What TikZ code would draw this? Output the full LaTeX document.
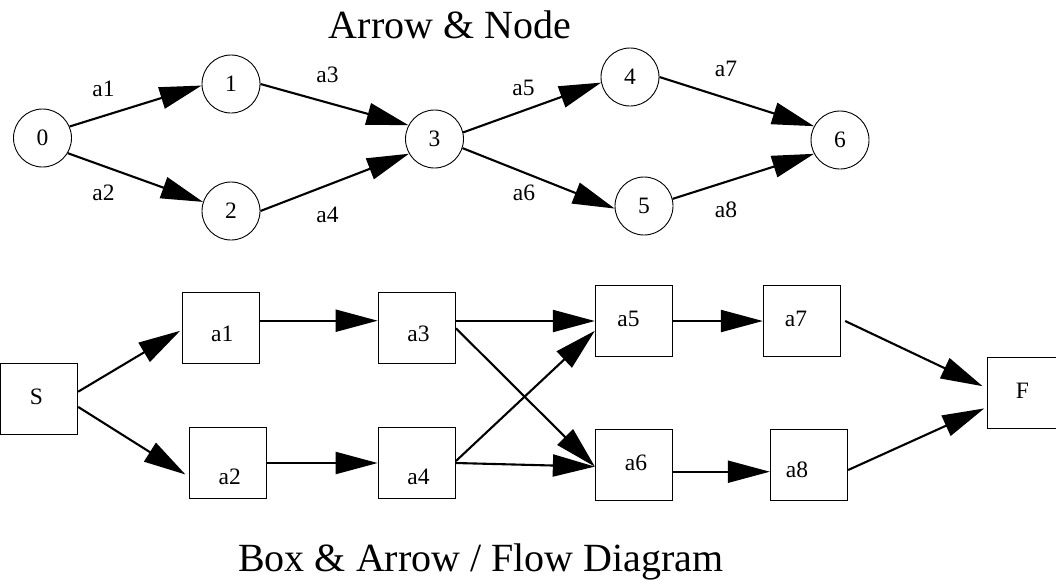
\documentclass[tikz,border=0pt]{standalone}
\usepackage{fontspec}
\setmainfont{Liberation Serif}
\usetikzlibrary{arrows.meta}
\begin{document}
\begin{tikzpicture}[x=1pt,y=-1pt,
  circ/.style={circle,draw,line width=0.9pt,minimum size=58pt,inner sep=0pt,font=\fontsize{23.5}{26}\selectfont},
  boxn/.style={rectangle,draw,line width=1.3pt,minimum width=77pt,minimum height=71pt,inner sep=0pt},
  lbl/.style={font=\fontsize{23.5}{26}\selectfont,inner sep=0pt},
  arr/.style={line width=2.1pt,-{Triangle[length=42pt,width=22pt]}},
  ttl/.style={font=\fontsize{40}{44}\selectfont,inner sep=0pt,anchor=base}]
\useasboundingbox (0,0) rectangle (1056,579);
% titles
\node[ttl] (t1) at (450,38.3) {Arrow \& Node};
\node[ttl] (t2) at (481,571.7) {Box \& Arrow / Flow Diagram};
% top graph
\node[circ] (n0) at (42.5,138) {0};
\node[circ] (n1) at (231,84) {1};
\node[circ] (n2) at (231,211) {2};
\node[circ] (n3) at (434.5,139) {3};
\node[circ] (n4) at (630,77) {4};
\node[circ] (n5) at (644,206) {5};
\node[circ] (n6) at (840,140) {6};
\draw[arr] (n0.23) -- (n1.183);
\draw[arr] (n0.-31) -- (n2.162);
\draw[arr] (n1.0) -- (n3.152);
\draw[arr] (n2.0) -- (n3.210);
\draw[arr] (n3.13) -- (n4.191);
\draw[arr] (n3.-18) -- (n5.185);
\draw[arr] (n4.0) -- (n6.152);
\draw[arr] (n5.14) -- (n6.208);
\node[lbl] (l1) at (103.5,89) {a1};
\node[lbl] (l2) at (103.5,192.5) {a2};
\node[lbl] (l3) at (327.5,75) {a3};
\node[lbl] (l4) at (327.5,215) {a4};
\node[lbl] (l5) at (523.5,88) {a5};
\node[lbl] (l6) at (524,192.5) {a6};
\node[lbl] (l7) at (726,69) {a7};
\node[lbl] (l8) at (726,210) {a8};
% bottom flow diagram
\node[boxn,label={[lbl,xshift=-2.5pt,yshift=2.5pt]center:S}] (S) at (39,399) {};
\node[boxn,label={[lbl,xshift=1.2pt,yshift=-5.4pt]center:a1}] (b1) at (221,328.3) {};
\node[boxn,label={[lbl,xshift=1.8pt,yshift=-14pt]center:a2}] (b2) at (228,463) {};
\node[boxn,label={[lbl,xshift=1.7pt,yshift=-5.4pt]center:a3}] (b3) at (416.8,328.3) {};
\node[boxn,label={[lbl,xshift=1.7pt,yshift=-14pt]center:a4}] (b4) at (416.8,463) {};
\node[boxn,label={[lbl,xshift=-5.5pt,yshift=2.5pt]center:a5}] (b5) at (634,321) {};
\node[boxn,label={[lbl,xshift=2pt,yshift=2pt]center:a6}] (b6) at (634,465) {};
\node[boxn,label={[lbl,xshift=-6pt,yshift=2.5pt]center:a7}] (b7) at (802,321) {};
\node[boxn,label={[lbl,xshift=-12pt,yshift=-5pt]center:a8}] (b8) at (809,465) {};
\node[boxn,label={[lbl,xshift=-3.3pt,yshift=2.5pt]center:F}] (F) at (1025.8,393) {};
\draw[arr] ([yshift=7.3pt]S.east) -- ([xshift=-1.7pt,yshift=-2.5pt]b1.west);
\draw[arr] ([yshift=-7.9pt]S.east) -- ([xshift=-3.4pt,yshift=-11.5pt]b2.west);
\draw[arr] ([yshift=7.6pt]b1.east) -- ([yshift=7.6pt]b3.west);
\draw[arr] (b2.east) -- (b4.west);
\draw[arr] ([yshift=7.3pt]b3.east) -- (b5.west);
\draw[arr] (b3.east) -- ([yshift=-1.6pt]b6.west);
\draw[arr] ([yshift=2pt]b4.east) -- ([yshift=-9.8pt]b5.west);
\draw[arr] (b4.east) -- ([yshift=-1.6pt]b6.west);
\draw[arr] (b5.east) -- (b7.west);
\draw[arr] ([yshift=-6.7pt]b6.east) -- ([yshift=-6.7pt]b8.west);
\draw[arr] ([xshift=4pt]b7.east) -- ([xshift=-4pt,yshift=6.8pt]F.west);
\draw[arr] ([yshift=-5pt]b8.east) -- ([xshift=-2.4pt,yshift=-15.4pt]F.west);
\end{tikzpicture}
\end{document}
